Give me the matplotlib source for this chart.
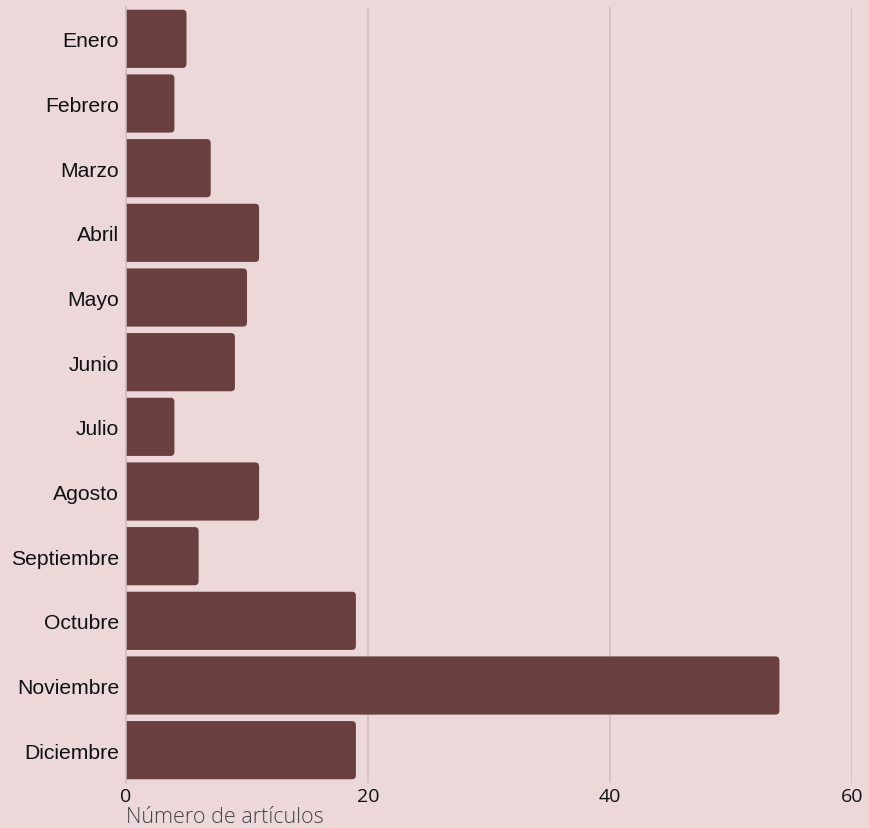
import numpy as np
import matplotlib.pyplot as plt
from matplotlib.patches import FancyBboxPatch

meses = ['Enero', 'Febrero', 'Marzo', 'Abril', 'Mayo', 'Junio', 'Julio',
         'Agosto', 'Septiembre', 'Octubre', 'Noviembre', 'Diciembre']
articulos = [5, 4, 7, 11, 10, 9, 4, 11, 6, 19, 54, 19]
xticks = [0, 20, 40, 60]

bg = '#ecd8d8'
bar_color = '#693f3f'
grid_color = '#d0bbbe'

W, H = 869, 829
fig = plt.figure(figsize=(W / 100, H / 100), dpi=100, facecolor=bg)
ax = fig.add_axes([126 / W, 1 - 783.5 / H, (852 - 126) / W, (783.5 - 7.5) / H])
ax.set_facecolor(bg)

y = np.arange(len(meses))
bars = ax.barh(y, articulos, height=0.9, color=bar_color)
ax.set_xlim(0, 60)
ax.set_ylim(len(meses) - 0.5, -0.5)

# rounded right corners: swap rects for fancy boxes, left edge hidden past x=0
r = 0.33
for rect in bars.patches:
    x0, y0 = rect.get_x(), rect.get_y()
    w, h = rect.get_width(), rect.get_height()
    rect.set_visible(False)
    p = FancyBboxPatch((x0 - 1, y0), w + 1, h,
                       boxstyle=f'round,pad=0,rounding_size={r}',
                       mutation_aspect=0.19, facecolor=bar_color,
                       edgecolor='none', zorder=3)
    ax.add_patch(p)

ax.set_xticks(xticks)
ax.grid(axis='x', color=grid_color, linewidth=1.1, zorder=0)
ax.set_axisbelow(True)
for s in ['top', 'right', 'bottom']:
    ax.spines[s].set_visible(False)
ax.spines['left'].set_color(grid_color)
ax.spines['left'].set_linewidth(1.1)
ax.spines['left'].set_zorder(4)

ax.set_yticks(y)
ax.set_yticklabels(meses, fontsize=15.2, family='Liberation Sans', color='#111111')
ax.tick_params(axis='y', length=0, pad=5)
ax.tick_params(axis='x', length=0, pad=3, labelsize=14, labelcolor='#111111')
for t in ax.get_xticklabels():
    t.set_family('Open Sans')

ax.set_xlabel('Número de artículos', loc='left', fontsize=15.5, family='Open Sans',
              fontweight='light', color='#454545', labelpad=1)

fig.savefig('out.png', dpi=100, facecolor=bg)
